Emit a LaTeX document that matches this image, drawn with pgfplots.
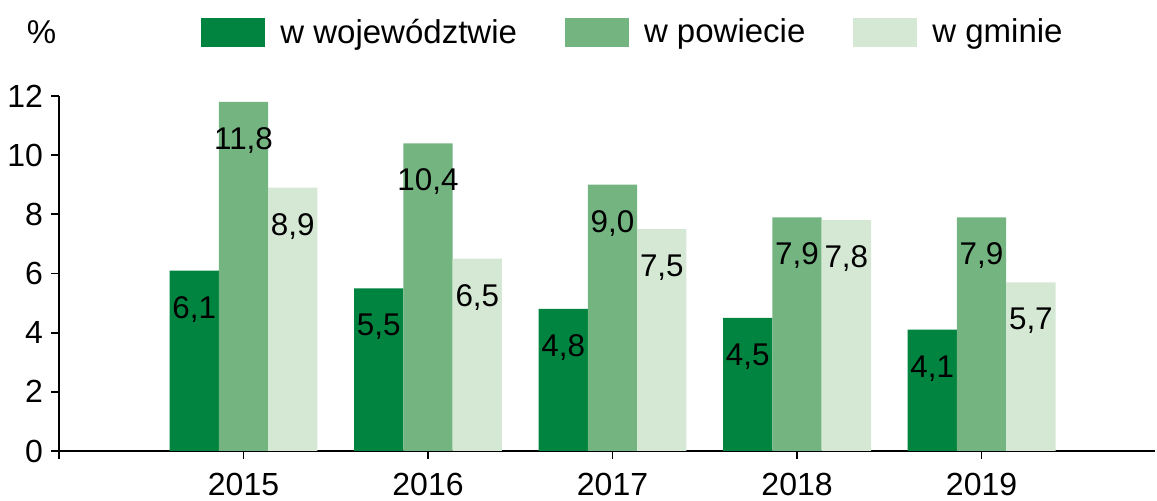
\documentclass[border=0pt]{standalone}
\usepackage{pgfplots}
\usepackage{pgfplotstable}
\pgfplotsset{compat=1.18}
\usepackage{fontspec}
\setmainfont{Liberation Sans}
\definecolor{cDark}{RGB}{0,132,63}
\definecolor{cMed}{RGB}{115,180,129}
\definecolor{cLight}{RGB}{213,232,212}
\pgfplotstableread{
x woj pow gm lw lp lg
0 6.1 11.8 8.9 6,1 11,8 8,9
1 5.5 10.4 6.5 5,5 10,4 6,5
2 4.8 9.0 7.5 4,8 9,0 7,5
3 4.5 7.9 7.8 4,5 7,9 7,8
4 4.1 7.9 5.7 4,1 7,9 5,7
}\data
\begin{document}
\begin{tikzpicture}
\begin{axis}[
  at={(29.5pt,25pt)}, anchor=south west,
  scale only axis, width=548pt, height=177.5pt,
  ybar, bar width=24.65pt,
  legend image code/.code={\fill[#1] (0pt,-7.25pt) rectangle (32pt,7.25pt);},
  xmin=-1, xmax=4.94, ymin=0, ymax=12,
  xtick={-1,0,1,2,3,4}, xticklabels={,2015,2016,2017,2018,2019},
  ytick={0,2,...,12},
  axis lines*=left,
  axis line style={line width=1.1pt, black},
  tick align=outside, major tick length=4pt,
  tick style={black, line width=0.9pt},
  /pgf/number format/assume math mode=true,
  tick label style={font=\fontsize{16}{18}\selectfont},
  xticklabel style={yshift=-3.6pt},
  yticklabel style={xshift=-0.5pt},
  clip=false,
  point meta=explicit symbolic,
  nodes near coords,
  every node near coord/.append style={anchor=center, yshift=-19.3pt, font=\fontsize{15.7}{18}\selectfont, black},
  legend columns=3,
  legend style={draw=none, fill=none, at={(0.1296,1.179)}, anchor=west,
    inner sep=0pt, column sep=7.5pt, nodes={inner sep=0pt},
    /tikz/every even column/.append style={column sep=24pt},
    font=\fontsize{16.5}{19}\selectfont},
]
\addplot[fill=cDark, draw=none, bar shift=-24.65pt] table[x=x, y=woj, meta=lw] {\data};
\addplot[fill=cMed, draw=none, bar shift=0pt] table[x=x, y=pow, meta=lp] {\data};
\addplot[fill=cLight, draw=none, bar shift=24.65pt] table[x=x, y=gm, meta=lg] {\data};
\legend{w województwie, w powiecie, w gminie}
\node[font=\fontsize{16.5}{19}\selectfont] at (axis description cs:-0.016,1.18) {\%};
\end{axis}
\pgfresetboundingbox
\useasboundingbox (0,0) rectangle (578.5pt,250.5pt);
\end{tikzpicture}
\end{document}
